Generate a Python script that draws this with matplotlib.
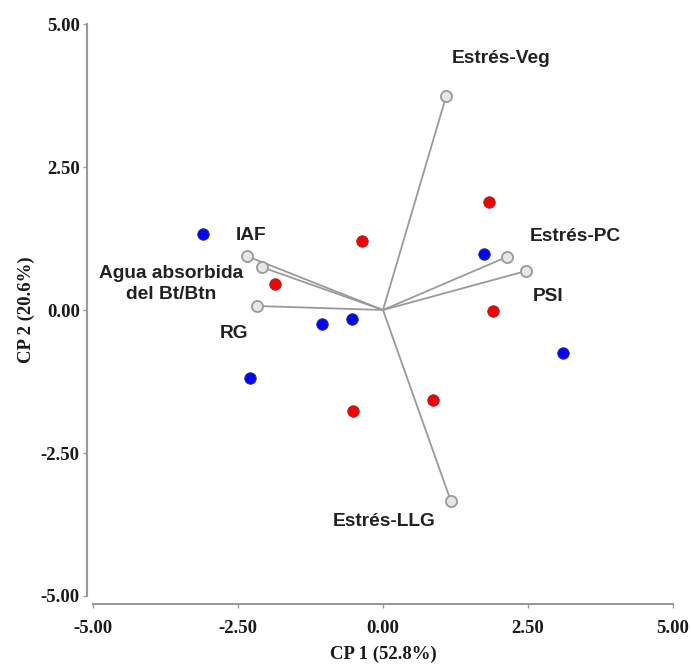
import matplotlib
matplotlib.use("Agg")
import matplotlib.pyplot as plt

# Observations (scores)
blue_x = [-3.10, 1.74, -1.05, -0.53, -2.29, 3.10]
blue_y = [1.33, 0.98, -0.24, -0.16, -1.19, -0.75]
red_x = [1.83, -0.36, -1.86, 1.90, -0.52, 0.86]
red_y = [1.89, 1.21, 0.45, -0.02, -1.77, -1.57]

# Variables (loadings)
var_names = ["IAF", "Agua absorbida\ndel Bt/Btn", "RG", "Estrés-Veg", "Estrés-PC", "PSI", "Estrés-LLG"]
var_x = [-2.34, -2.09, -2.17, 1.09, 2.14, 2.46, 1.17]
var_y = [0.94, 0.75, 0.07, 3.74, 0.93, 0.68, -3.34]
# label anchor positions (data coords)
lab_x = [-2.28, -3.65, -2.56, 2.03, 3.32, 2.85, 0.02]
lab_y = [1.31, 0.45, -0.41, 4.39, 1.28, 0.23, -3.70]

ticks = [-5.0, -2.5, 0.0, 2.5, 5.0]
tick_labels = ["-5.00", "-2.50", "0.00", "2.50", "5.00"]

fig = plt.figure(figsize=(6.91, 6.71), dpi=100)
ax = fig.add_axes([93/691, 1-596/671, (673-93)/691, (596-24)/671])
ax.set_xlim(-5, 5)
ax.set_ylim(-5, 5)

for vx, vy in zip(var_x, var_y):
    ax.plot([0, vx], [0, vy], color="#9a9a9a", lw=1.3, zorder=2)
ax.plot(var_x, var_y, 'o', ms=8, mfc="#e6e6e6", mec="#9a9a9a", mew=1.3, ls='none', zorder=3)

ax.plot(blue_x, blue_y, 'o', ms=8.3, mfc="#0505ee", mec="#2a2a9a", mew=0.6, ls='none', zorder=4)
ax.plot(red_x, red_y, 'o', ms=8.3, mfc="#ee0505", mec="#9a2a2a", mew=0.6, ls='none', zorder=4)

for name, lx, ly in zip(var_names, lab_x, lab_y):
    ax.text(lx, ly, name, ha='center', va='center', fontsize=13.8, fontweight='bold',
            family='Liberation Sans', color='#222222', linespacing=1.3, zorder=5)

for s in ['top', 'right']:
    ax.spines[s].set_visible(False)
for s in ['left', 'bottom']:
    ax.spines[s].set_color('#9a9a9a')
    ax.spines[s].set_linewidth(1.5)
ax.spines['left'].set_position(('outward', 4.5))
ax.spines['bottom'].set_position(('outward', 5.5))
ax.spines['left'].set_bounds(-5, 5)
ax.spines['bottom'].set_bounds(-5, 5)

ax.set_xticks(ticks)
ax.set_xticklabels(tick_labels)
ax.set_yticks(ticks)
ax.set_yticklabels(tick_labels)
ax.tick_params(length=3, width=1, color='#9a9a9a')
ax.tick_params(axis='x', pad=9)
ax.tick_params(axis='y', pad=2)
for lab in ax.get_xticklabels() + ax.get_yticklabels():
    lab.set_fontfamily('Liberation Serif')
    lab.set_fontweight('bold')
    lab.set_fontsize(13.5)
    lab.set_color('#1a1a1a')

ax.set_xlabel("CP 1 (52.8%)", family='Liberation Serif', fontweight='bold', fontsize=13.5, color='#1a1a1a', labelpad=6)
ax.set_ylabel("CP 2 (20.6%)", family='Liberation Serif', fontweight='bold', fontsize=13.5, color='#1a1a1a', labelpad=4)

fig.savefig("out.png", dpi=100)
